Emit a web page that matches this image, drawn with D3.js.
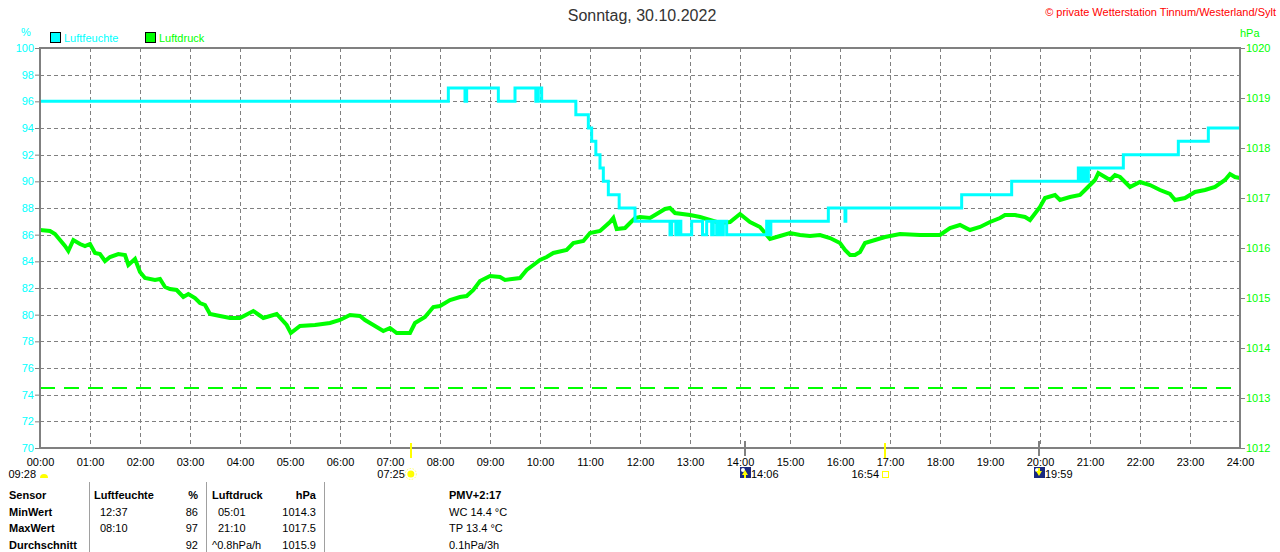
<!DOCTYPE html>
<html>
<head>
  <title>Luftfeuchte / Luftdruck</title>
  <script src="https://d3js.org/d3.v7.min.js"></script>
  <style type="text/css">
    body { margin: 0; background: #fff; }
    svg { display: block; font-family: "Liberation Sans", Arial, sans-serif; }
  </style>
</head>
<body>
  <svg id="chart" width="1280" height="552"></svg>
  <script type="text/javascript">
    // chart data
    const title = "Sonntag, 30.10.2022";
    const copyright = "\u00A9 private Wetterstation Tinnum/Westerland/Sylt";
    const hourLabels = ["00:00","01:00","02:00","03:00","04:00","05:00","06:00","07:00","08:00","09:00","10:00","11:00","12:00",
                        "13:00","14:00","15:00","16:00","17:00","18:00","19:00","20:00","21:00","22:00","23:00","24:00"];
    const humTicks = [70,72,74,76,78,80,82,84,86,88,90,92,94,96,98,100];
    const presTicks = [1012,1013,1014,1015,1016,1017,1018,1019,1020];
    const referencePressure = 1013.2;

    // humidity (%) steps: value valid from time on
    const humTimes = ["00:00","08:10","08:30","08:32","09:10","09:30","09:55","09:58","10:02","10:43",
                      "10:58","11:02","11:07","11:12","11:16","11:22","11:35","11:54","12:36","12:38",
                      "12:43","12:46","12:49","13:02","13:15","13:20","13:26","13:28","13:32","13:35",
                      "13:38","13:40","13:44","14:32","14:35","14:37","15:46","16:06","16:07","18:26",
                      "19:26","20:46","20:47","20:49","20:51","20:53","20:55","20:58","21:40","22:46",
                      "23:22","24:00"];
    const humValues = [96,97,96,97,96,97,96,97,96,95,
                       94,93,92,91,90,89,88,87,86,87,
                       86,87,86,87,86,87,86,87,86,87,
                       86,87,86,87,86,87,88,87,88,89,
                       90,91,90,91,90,91,90,91,92,93,
                       94,94];

    // air pressure (hPa)
    const presTimes = ["00:00","00:12","00:18","00:22","00:30","00:34","00:40","00:48","00:54","01:00","01:06","01:12","01:18",
                       "01:24","01:34","01:42","01:46","01:54","02:00","02:06","02:18","02:24","02:30","02:36","02:44","02:52",
                       "02:58","03:06","03:12","03:18","03:24","03:36","03:48","04:00","04:16","04:28","04:44","04:56","05:01",
                       "05:12","05:30","05:48","06:00","06:12","06:24","06:30","06:40","06:52","07:00","07:08","07:24","07:30",
                       "07:42","07:52","08:00","08:12","08:24","08:32","08:40","08:48","09:00","09:12","09:18","09:36","09:44",
                       "09:52","10:00","10:08","10:16","10:32","10:40","10:52","11:00","11:12","11:24","11:28","11:32","11:42",
                       "11:48","11:54","12:00","12:12","12:18","12:30","12:36","12:42","13:00","13:12","13:24","13:36","13:48",
                       "14:00","14:12","14:24","14:30","14:36","14:48","15:00","15:12","15:24","15:36","15:48","16:00","16:06",
                       "16:12","16:18","16:24","16:30","16:42","16:54","17:12","17:36","18:00","18:12","18:24","18:36","18:48",
                       "19:00","19:12","19:18","19:30","19:42","19:48","20:00","20:06","20:18","20:24","20:36","20:48","20:54",
                       "21:00","21:06","21:10","21:18","21:24","21:30","21:36","21:48","22:00","22:12","22:24","22:36","22:42",
                       "22:54","23:06","23:18","23:30","23:42","23:48","23:54","24:00"];
    const presValues = [1016.36,1016.34,1016.28,1016.20,1016.04,1015.94,1016.16,1016.08,1016.04,1016.08,1015.90,1015.88,1015.74,
                        1015.82,1015.88,1015.86,1015.66,1015.78,1015.52,1015.40,1015.36,1015.38,1015.22,1015.18,1015.16,1015.02,
                        1015.08,1015.00,1014.90,1014.86,1014.68,1014.64,1014.60,1014.60,1014.74,1014.60,1014.68,1014.46,1014.30,
                        1014.44,1014.46,1014.50,1014.56,1014.66,1014.64,1014.56,1014.46,1014.34,1014.40,1014.30,1014.30,1014.50,
                        1014.62,1014.82,1014.84,1014.96,1015.02,1015.04,1015.16,1015.34,1015.44,1015.42,1015.36,1015.40,1015.56,
                        1015.66,1015.76,1015.82,1015.90,1015.96,1016.10,1016.14,1016.30,1016.34,1016.52,1016.60,1016.38,1016.40,
                        1016.50,1016.60,1016.62,1016.60,1016.66,1016.78,1016.80,1016.70,1016.66,1016.62,1016.56,1016.50,1016.52,
                        1016.68,1016.52,1016.42,1016.30,1016.18,1016.24,1016.30,1016.26,1016.24,1016.26,1016.20,1016.10,1015.96,
                        1015.86,1015.86,1015.92,1016.10,1016.16,1016.22,1016.28,1016.26,1016.26,1016.40,1016.46,1016.36,1016.42,
                        1016.52,1016.60,1016.66,1016.66,1016.62,1016.56,1016.82,1017.00,1017.06,1016.96,1017.02,1017.06,1017.16,
                        1017.26,1017.36,1017.50,1017.42,1017.36,1017.46,1017.42,1017.22,1017.32,1017.26,1017.16,1017.08,1016.96,
                        1017.00,1017.12,1017.16,1017.22,1017.36,1017.48,1017.42,1017.40];

    // sun / moon events below the time axis
    const sunshine = "09:28";
    const sunrise = "07:25";
    const sunset = "16:54";
    const moonrise = "14:06";
    const moonset = "19:59";

    // statistics table
    const tableRows = ["Sensor", "MinWert", "MaxWert", "Durchschnitt"];
    const humTable = [["Luftfeuchte", "%"], ["12:37", "86"], ["08:10", "97"], ["", "92"]];
    const presTable = [["Luftdruck", "hPa"], ["05:01", "1014.3"], ["21:10", "1017.5"], ["^0.8hPa/h", "1015.9"]];
    const extraTable = ["PMV+2:17", "WC 14.4 \u00B0C", "TP 13.4 \u00B0C", "0.1hPa/3h"];

    // ---------------------------------------------------------------
    const toMin = s => { const p = s.split(":"); return (+p[0]) * 60 + (+p[1]); };

    const plotL = 40, plotR = 1240, plotT = 48, plotB = 448;
    const CYAN = "#00ffff", GREEN = "#00ff00", GRID = "#808080";
    const FONT = "Liberation Sans, Arial, sans-serif";

    const x = d3.scaleLinear().domain([0, 1440]).range([plotL, plotR]);
    const yHum = d3.scaleLinear().domain([70, 100]).range([plotB, plotT]);
    const yPres = d3.scaleLinear().domain([1012, 1020]).range([plotB, plotT]);

    const svg = d3.select("#chart");

    svg.append("defs").append("clipPath").attr("id", "plot")
      .append("rect").attr("x", plotL).attr("y", plotT).attr("width", plotR - plotL).attr("height", plotB - plotT);

    // titles
    svg.append("text").attr("x", 642).attr("y", 21).attr("text-anchor", "middle")
      .style("font-size", "16px").attr("fill", "#333").text(title);
    svg.append("text").attr("x", 1276).attr("y", 16).attr("text-anchor", "end")
      .style("font-size", "11px").attr("fill", "#ff0000").text(copyright);
    svg.append("text").attr("x", 26).attr("y", 36).attr("text-anchor", "middle")
      .style("font-size", "11px").attr("fill", CYAN).text("%");
    svg.append("text").attr("x", 1240).attr("y", 37)
      .style("font-size", "11px").attr("fill", GREEN).text("hPa");

    // legend
    const legend = [["Luftfeuchte", CYAN, 50], ["Luftdruck", GREEN, 145]];
    legend.forEach(([name, col, lx]) => {
      svg.append("rect").attr("x", lx + 0.5).attr("y", 32.5).attr("width", 10).attr("height", 10)
        .attr("fill", col).attr("stroke", "#000");
      svg.append("text").attr("x", lx + 14).attr("y", 42)
        .style("font-size", "11px").attr("fill", col).text(name);
    });

    // grid
    const grid = svg.append("g").attr("stroke", GRID).attr("stroke-dasharray", "4,3").attr("stroke-width", 1);
    grid.selectAll("line.v").data(d3.range(60, 1440, 60)).join("line").attr("class", "v")
      .attr("x1", d => x(d) + 0.5).attr("x2", d => x(d) + 0.5).attr("y1", plotT).attr("y2", plotB);
    grid.selectAll("line.h").data(humTicks.filter(d => d > 70 && d < 100)).join("line").attr("class", "h")
      .attr("x1", plotL).attr("x2", plotR)
      .attr("y1", d => Math.round(yHum(d)) + 0.5).attr("y2", d => Math.round(yHum(d)) + 0.5);

    // left axis
    const axL = svg.append("g").attr("transform", `translate(${plotL},0)`)
      .call(d3.axisLeft(yHum).tickValues(humTicks).tickSize(5).tickPadding(1));
    axL.select(".domain").remove();
    axL.selectAll("line").attr("stroke", GRID);
    axL.selectAll("text").attr("fill", CYAN).style("font-size", "11px").style("font-family", FONT);

    // right axis
    const axR = svg.append("g").attr("transform", `translate(${plotR},0)`)
      .call(d3.axisRight(yPres).tickValues(presTicks).tickFormat(d3.format("d")).tickSize(5).tickPadding(1));
    axR.select(".domain").remove();
    axR.selectAll("line").attr("stroke", GRID);
    axR.selectAll("text").attr("fill", GREEN).style("font-size", "11px").style("font-family", FONT);

    // bottom axis
    const axB = svg.append("g").attr("transform", `translate(0,${plotB})`)
      .call(d3.axisBottom(x).tickValues(d3.range(0, 1441, 60)).tickSize(0).tickPadding(10)
        .tickFormat((d, i) => hourLabels[i]));
    axB.select(".domain").remove();
    axB.selectAll("text").attr("fill", "#000").style("font-size", "11px").style("font-family", FONT);

    // reference pressure
    svg.append("line").attr("x1", plotL).attr("x2", plotR)
      .attr("y1", Math.round(yPres(referencePressure))).attr("y2", Math.round(yPres(referencePressure)))
      .attr("stroke", GREEN).attr("stroke-width", 2).attr("stroke-dasharray", "15,9");

    // series
    const plot = svg.append("g").attr("clip-path", "url(#plot)");
    const presData = presTimes.map((t, i) => [toMin(t), presValues[i]]);
    const humData = humTimes.map((t, i) => [toMin(t), humValues[i]]);

    plot.append("path").datum(presData)
      .attr("fill", "none").attr("stroke", GREEN).attr("stroke-width", 4)
      .attr("d", d3.line().x(d => x(d[0])).y(d => yPres(d[1])));

    plot.append("path").datum(humData)
      .attr("fill", "none").attr("stroke", CYAN).attr("stroke-width", 3)
      .attr("d", d3.line().curve(d3.curveStepAfter).x(d => x(d[0])).y(d => yHum(d[1])));

    // frame
    const frame = svg.append("g").attr("stroke", GRID).attr("stroke-width", 2).attr("fill", "none");
    frame.append("line").attr("x1", plotL - 1).attr("x2", plotR + 1).attr("y1", plotT).attr("y2", plotT);
    frame.append("line").attr("x1", plotL - 1).attr("x2", plotR + 1).attr("y1", plotB).attr("y2", plotB);
    frame.append("line").attr("x1", plotL).attr("x2", plotL).attr("y1", plotT).attr("y2", plotB);
    frame.append("line").attr("x1", plotR).attr("x2", plotR).attr("y1", plotT).attr("y2", plotB);

    // sun and moon markers
    const ev = svg.append("g").style("font-size", "11px").attr("fill", "#000");
    const yEv = 478;

    ev.append("text").attr("x", 36).attr("y", yEv).attr("text-anchor", "end").text(sunshine);
    ev.append("path").attr("d", "M40,478 A4,4 0 0 1 48,478 Z").attr("fill", "#ffff00");

    [sunrise, sunset].forEach(t => {
      svg.append("line").attr("x1", Math.round(x(toMin(t)))).attr("x2", Math.round(x(toMin(t))))
        .attr("y1", 443).attr("y2", 458).attr("stroke", "#ffff00").attr("stroke-width", 2);
    });
    ev.append("text").attr("x", x(toMin(sunrise)) - 6).attr("y", yEv).attr("text-anchor", "end").text(sunrise);
    const sx = x(toMin(sunrise)), sy = 474;
    ev.append("circle").attr("cx", sx).attr("cy", sy).attr("r", 3.5).attr("fill", "#ffff00");
    ev.append("circle").attr("cx", sx).attr("cy", sy).attr("r", 5.5).attr("fill", "none")
      .attr("stroke", "#ffff66").attr("stroke-width", 1).attr("stroke-dasharray", "1.5,1.5");

    ev.append("text").attr("x", x(toMin(sunset)) - 6).attr("y", yEv).attr("text-anchor", "end").text(sunset);
    ev.append("rect").attr("x", x(toMin(sunset)) - 2.5).attr("y", 471.5).attr("width", 6).attr("height", 6)
      .attr("fill", "none").attr("stroke", "#ffff00");

    [moonrise, moonset].forEach((t, i) => {
      const mx = Math.round(x(toMin(t)));
      svg.append("line").attr("x1", mx).attr("x2", mx).attr("y1", 441).attr("y2", 456)
        .attr("stroke", GRID).attr("stroke-width", 2);
      ev.append("rect").attr("x", mx - 5).attr("y", 467).attr("width", 11).attr("height", 11).attr("fill", "#1a2a80");
      ev.append("circle").attr("cx", mx - 2).attr("cy", 470).attr("r", 2).attr("fill", "#ffffff");
      ev.append("path")
        .attr("d", i === 0 ? `M${mx},470 L${mx + 3},475 L${mx + 1},475 L${mx + 1},478 L${mx - 1},478 L${mx - 1},475 L${mx - 3},475 Z`
                           : `M${mx},476 L${mx + 3},471 L${mx + 1},471 L${mx + 1},468 L${mx - 1},468 L${mx - 1},471 L${mx - 3},471 Z`)
        .attr("fill", "#ffff00");
      ev.append("text").attr("x", mx + 6).attr("y", yEv).text(t);
    });

    // statistics table
    const tb = svg.append("g").style("font-size", "11px").attr("fill", "#000");
    const rowY = [499, 516, 532, 549];
    [89, 206, 324].forEach(lx => {
      tb.append("line").attr("x1", lx + 0.5).attr("x2", lx + 0.5).attr("y1", 482).attr("y2", 552)
        .attr("stroke", "#a0a0a0").attr("stroke-width", 1);
    });
    tableRows.forEach((r, i) => {
      tb.append("text").attr("x", 9).attr("y", rowY[i]).style("font-weight", "bold").text(r);
    });
    humTable.forEach((r, i) => {
      tb.append("text").attr("x", i === 0 ? 94 : 100).attr("y", rowY[i]).style("font-weight", i === 0 ? "bold" : "normal").text(r[0]);
      tb.append("text").attr("x", 198).attr("y", rowY[i]).attr("text-anchor", "end")
        .style("font-weight", i === 0 ? "bold" : "normal").text(r[1]);
    });
    presTable.forEach((r, i) => {
      tb.append("text").attr("x", (i === 0 || i === 3) ? 212 : 218).attr("y", rowY[i])
        .style("font-weight", i === 0 ? "bold" : "normal").text(r[0]);
      tb.append("text").attr("x", 316).attr("y", rowY[i]).attr("text-anchor", "end")
        .style("font-weight", i === 0 ? "bold" : "normal").text(r[1]);
    });
    extraTable.forEach((r, i) => {
      tb.append("text").attr("x", 449).attr("y", rowY[i]).style("font-weight", i === 0 ? "bold" : "normal").text(r);
    });
  </script>
</body>
</html>
